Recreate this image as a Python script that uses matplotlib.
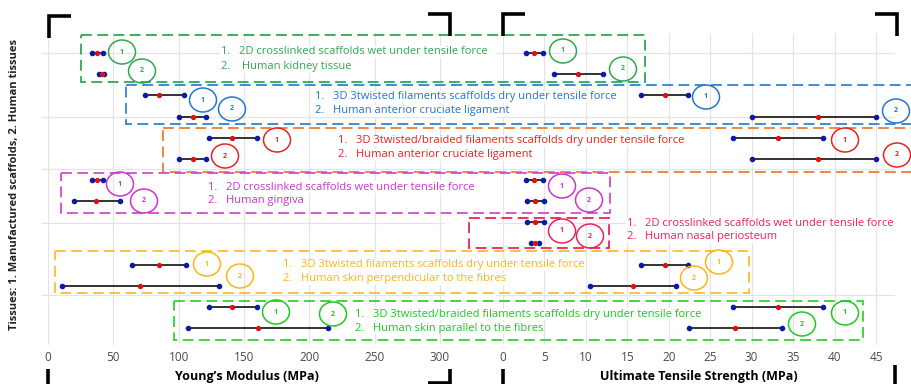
import matplotlib.pyplot as plt
from matplotlib.patches import Ellipse, Rectangle
import numpy as np

plt.rcParams['font.family'] = ['Open Sans', 'DejaVu Sans']

# Rows: 7 tissue groups, each with 1 = manufactured scaffold, 2 = human tissue
scaffold_names = [
    "2D crosslinked scaffolds wet under tensile force",
    "3D 3twisted filaments scaffolds dry under tensile force",
    "3D 3twisted/braided filaments scaffolds dry under tensile force",
    "2D crosslinked scaffolds wet under tensile force",
    "2D crosslinked scaffolds wet under tensile force",
    "3D 3twisted filaments scaffolds dry under tensile force",
    "3D 3twisted/braided filaments scaffolds dry under tensile force",
]
tissue_names = [
    " Human kidney tissue",
    "Human anterior cruciate ligament",
    "Human anterior cruciate ligament",
    "Human gingiva",
    "Human nasal periosteum",
    "Human skin perpendicular to the fibres",
    "Human skin parallel to the fibres",
]
group_colors = ['#2fa84f', '#1f78d1', '#e8231f', '#cc33cc', '#ee1f60', '#ffb31a', '#1fc81f']
box_colors = ['#2fa84f', '#2b84d8', '#f07a32', '#d04bd0', '#ee1f60', '#ffbd2e', '#2ed42e']

# Young's modulus (MPa): min, mean, max per row (nan = no data)
ym_min = [33.4, 39.3, 74, 100, 123, 100, 33.4, 20, np.nan, np.nan, 64, 11, 123, 107]
ym_mid = [37.5, 41.0, 85, 111, 140.5, 111, 37.5, 37, np.nan, np.nan, 85, 70.5, 140.5, 160.5]
ym_max = [42.0, 42.9, 104, 121, 160, 121, 42.0, 55, np.nan, np.nan, 105.5, 130.5, 160, 214]

# Ultimate tensile strength (MPa)
uts_min = [2.8, 6.15, 16.6, 30, 27.8, 30, 2.8, 2.85, 2.85, 3.4, 16.6, 10.5, 27.8, 22.4]
uts_mid = [3.8, 9.1, 19.5, 38, 33.2, 38, 3.8, 3.9, 3.85, 3.9, 19.5, 15.65, 33.2, 28.0]
uts_max = [4.8, 12.1, 22.3, 45, 38.6, 45, 4.8, 4.9, 4.9, 4.3, 22.3, 20.9, 38.6, 33.7]

ym_ticks = [0, 50, 100, 150, 200, 250, 300]
uts_ticks = [0, 5, 10, 15, 20, 25, 30, 35, 40, 45]
grid_rows = [0, 3, 5.5, 8.05, 11.45]

rows = np.arange(len(ym_min))

fig = plt.figure(figsize=(9.12, 3.84), dpi=100)
W, H = 912, 384


def px_axes(x0, x1, y0, y1):
    return fig.add_axes([x0 / W, (H - y1) / H, (x1 - x0) / W, (y1 - y0) / H])


ax1 = px_axes(48, 445, 33, 345)
ax2 = px_axes(503, 895, 33, 345)

for ax, lo, mid, hi, ticks, xmax in [(ax1, ym_min, ym_mid, ym_max, ym_ticks, 303.8),
                                     (ax2, uts_min, uts_mid, uts_max, uts_ticks, 47.3)]:
    lo, mid, hi = np.array(lo), np.array(mid), np.array(hi)
    ok = ~np.isnan(lo)
    ax.hlines(rows[ok], lo[ok], hi[ok], color='#222222', lw=1.3, zorder=3)
    ax.plot(lo[ok], rows[ok], 'o', color='#0d1aa8', ms=3.0, zorder=4)
    ax.plot(hi[ok], rows[ok], 'o', color='#0d1aa8', ms=3.0, zorder=4)
    ax.plot(mid[ok], rows[ok], 'o', color='#e01010', ms=2.8, zorder=5)
    ax.set_xlim(0, xmax)
    ax.set_ylim(13.8, -0.95)
    ax.set_xticks(ticks)
    ax.set_yticks(grid_rows)
    ax.set_yticklabels([])
    ax.grid(True, color='#e4e4e4', lw=0.9)
    ax.set_axisbelow(True)
    for s in ax.spines.values():
        s.set_visible(False)
    ax.tick_params(axis='x', length=0, pad=4.5, labelsize=8.5, labelcolor='#4a4a4a')
    ax.tick_params(axis='y', length=5, color='#e4e4e4', width=0.9)

ax1.set_xlabel("Young\u2019s Modulus (MPa)", fontsize=9, fontweight='bold', labelpad=4)
ax2.set_xlabel("Ultimate Tensile Strength (MPa)", fontsize=9, fontweight='bold', labelpad=4)

# overlay in figure pixels for boxes, legends, circles and crop brackets
ov = fig.add_axes([0, 0, 1, 1], zorder=10)
ov.set_xlim(0, W)
ov.set_ylim(H, 0)
ov.axis('off')
ov.patch.set_alpha(0)

ov.text(15, 184, "Tissues: 1. Manufactured scaffolds, 2. Human tissues", rotation=90,
        ha='center', va='center', fontsize=8.0, fontweight='bold', color='#222222')

# box (x0, y0, x1, y1), text (x, y1, y2), circles [(x, y) for 1 and 2 per panel]
layout = [
    ((81, 35, 645, 82), (221, 52, 67), [(122, 52), (142, 71), (563, 51), (623, 69)]),
    ((126, 85, 930, 124), (315, 97, 111), [(203, 100), (232, 109), (706, 97), (896, 111)]),
    ((163, 128, 930, 172), (338, 141, 155), [(277, 140), (225, 156), (845, 140), (897, 155)]),
    ((61, 173, 610, 213), (208, 187, 201), [(120, 184), (144, 201), (562, 186), (589, 200)]),
    ((469, 218, 609, 248), (627, 223, 237), [(562, 231), (590, 236)]),
    ((55, 251, 749, 293), (283, 265, 279), [(207, 264), (240, 276), (719, 262), (694, 278)]),
    ((174, 301, 863, 340), (355, 314, 328), [(276, 312), (333, 314), (845, 313), (802, 324)]),
]

for g, (box, txt, circles) in enumerate(layout):
    x0, y0, x1, y1 = box
    ov.add_patch(Rectangle((x0, y0), x1 - x0, y1 - y0, fill=False, ec=box_colors[g],
                           lw=1.3, ls=(0, (6, 3))))
    tx, ty1, ty2 = txt
    bb = dict(facecolor='white', edgecolor='none', pad=0.6)
    ov.text(tx, ty1, "1.   " + scaffold_names[g], fontsize=8.0, color=group_colors[g],
            va='center', ha='left', bbox=bb)
    ov.text(tx, ty2, "2.   " + tissue_names[g], fontsize=8.0, color=group_colors[g],
            va='center', ha='left', bbox=bb)
    for i, (cx, cy) in enumerate(circles):
        ov.add_patch(Ellipse((cx, cy), 27, 24, fill=False, ec=group_colors[g], lw=1.1))
        ov.text(cx, cy, str(i % 2 + 1), fontsize=5, fontweight='bold', color=group_colors[g],
                ha='center', va='center')

# crop-mark brackets
brackets = [
    [(71, 16), (49, 16), (49, 38)],
    [(428, 14), (450, 14), (450, 36)],
    [(525, 14), (503, 14), (503, 36)],
    [(875, 14), (897, 14), (897, 36)],
    [(48, 369), (48, 386)],
    [(428, 383), (450, 383), (450, 369)],
    [(503, 369), (503, 386)],
    [(895, 365), (895, 386)],
]
for pts in brackets:
    xs, ys = zip(*pts)
    ov.plot(xs, ys, color='black', lw=2.6, solid_capstyle='butt', solid_joinstyle='miter')

fig.savefig("out.png", dpi=100)
